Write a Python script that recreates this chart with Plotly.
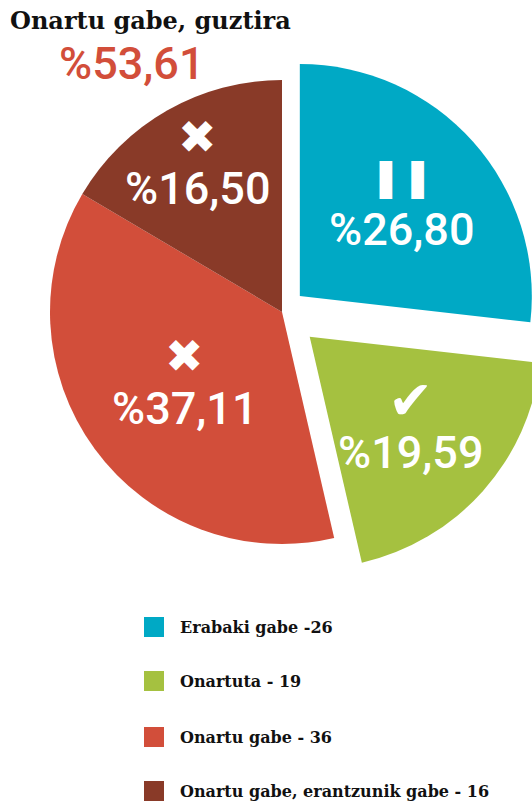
import math
import plotly.graph_objects as go

# Slice data (percent of total) and legend counts
categories = ["Erabaki gabe", "Onartuta", "Onartu gabe", "Onartu gabe, erantzunik gabe"]
percents = [26.80, 19.59, 37.11, 16.50]
counts = [26, 19, 36, 16]
icons = ["\u275a\u275a", "\u2714", "\u2716", "\u2716"]
title_text = "Onartu gabe, guztira"

# Styling
colors = ["#00a9c5", "#a5c140", "#d24e3a", "#893a28"]
pulls = [0.103, 0.16, 0.0, 0.0]
label_r = [0.59, 0.585, 0.52, 0.735]   # radial position of each slice label (fraction of radius)
icon_size = [38, 54, 46, 46]
serif = "DejaVu Serif"

W, H = 560, 806
R = 232.0                 # pie radius in px
CX, CY = 282.0, 312.0     # pie centre in px (from top-left)

box = 2 * R * (1 + max(pulls))
dom_x = [(CX - box / 2) / W, (CX + box / 2) / W]
dom_y = [(H - CY - box / 2) / H, (H - CY + box / 2) / H]


def pct(v):
    return "%" + f"{v:.2f}".replace(".", ",")


def px(x, y):
    return dict(x=x / W, y=1 - y / H, xref="paper", yref="paper")


fig = go.Figure(
    go.Pie(
        labels=categories,
        values=percents,
        marker=dict(colors=colors, line=dict(width=0)),
        pull=pulls,
        sort=False,
        direction="clockwise",
        rotation=0,
        textinfo="none",
        hoverinfo="label+value",
        showlegend=False,
        domain=dict(x=dom_x, y=dom_y),
    )
)

annotations = []
total = sum(percents)
cum = 0.0
for v, p, rf, icon, isz in zip(percents, pulls, label_r, icons, icon_size):
    mid = (cum + v / 2) / total * 2 * math.pi
    cum += v
    dx, dy = math.sin(mid), -math.cos(mid)
    vx, vy = CX + p * R * dx, CY + p * R * dy
    lx, ly = vx + rf * R * dx, vy + rf * R * dy
    annotations.append(dict(
        **px(lx, ly + 25), xanchor="center", yanchor="middle",
        text=pct(v), showarrow=False,
        font=dict(family="Roboto", size=45, color="white", weight=500),
    ))
    annotations.append(dict(
        **px(lx, ly - 27), xanchor="center", yanchor="middle",
        text=icon, showarrow=False,
        font=dict(family="DejaVu Sans", size=isz, color="white"),
    ))

# Title and combined "not approved" share
annotations.append(dict(
    **px(8, 20), xanchor="left", yanchor="middle",
    text="<b>" + title_text + "</b>", showarrow=False,
    font=dict(family=serif, size=24, color="#111111"),
))
annotations.append(dict(
    **px(132, 63), xanchor="center", yanchor="middle",
    text=pct(percents[2] + percents[3]), showarrow=False,
    font=dict(family="Roboto", size=45, color="#d24e3a", weight=500),
))

# Legend: coloured squares with labels
shapes = []
leg_y = [627, 681, 737, 791]
for cat, n, c, y in zip(categories, counts, colors, leg_y):
    sep = " -" if n == counts[0] else " - "
    shapes.append(dict(
        type="rect", xref="paper", yref="paper",
        x0=144 / W, x1=164 / W, y0=1 - (y - 10) / H, y1=1 - (y + 10) / H,
        fillcolor=c, line=dict(width=0),
    ))
    annotations.append(dict(
        **px(178, y), xanchor="left", yanchor="middle",
        text="<b>" + cat + sep + str(n) + "</b>", showarrow=False,
        font=dict(family=serif, size=16, color="#111111"),
    ))

fig.update_layout(
    width=W, height=H,
    margin=dict(l=0, r=0, t=0, b=0),
    paper_bgcolor="white", plot_bgcolor="white",
    annotations=annotations, shapes=shapes,
)

fig.write_html("out.html")
